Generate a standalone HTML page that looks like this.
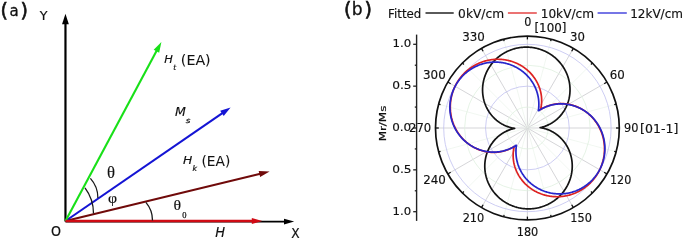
<!DOCTYPE html>
<html><head><meta charset="utf-8"><title>Figure</title><style>
html,body{margin:0;padding:0;background:#fff;width:685px;height:241px;overflow:hidden}
svg{display:block}
</style></head><body>
<svg width="685" height="241" viewBox="0 0 685 241">
<rect width="685" height="241" fill="#fff"/>
<line x1="65.50" y1="221.50" x2="65.45" y2="23.30" stroke="#000" stroke-width="2.2"/><polygon points="65.45,13.70 68.85,24.30 62.05,24.30" fill="#000"/>
<line x1="65.50" y1="221.60" x2="285.00" y2="221.60" stroke="#000" stroke-width="1.6"/><polygon points="294.20,221.60 284.00,224.40 284.00,218.80" fill="#000"/>
<line x1="65.50" y1="221.00" x2="260.37" y2="173.74" stroke="#700a0a" stroke-width="1.9"/><polygon points="269.60,171.50 260.10,176.89 258.69,171.06" fill="#700a0a"/>
<line x1="65.50" y1="221.00" x2="222.77" y2="112.79" stroke="#1414d4" stroke-width="2.1"/><polygon points="230.60,107.40 223.71,115.91 220.19,110.80" fill="#1414d4"/>
<line x1="65.50" y1="221.00" x2="156.91" y2="50.37" stroke="#18e018" stroke-width="2.1"/><polygon points="161.40,42.00 159.17,52.72 153.71,49.79" fill="#18e018"/>
<line x1="65.50" y1="221.00" x2="252.80" y2="221.00" stroke="#d00a14" stroke-width="2.6"/><polygon points="262.30,221.00 251.80,223.90 251.80,218.10" fill="#d00a14"/>
<path d="M90.4,178.4 A29.1,29.1 0 0 1 97.9,197.9" fill="none" stroke="#1a1a1a" stroke-width="1.3"/>
<path d="M85,187.9 A42.5,42.5 0 0 1 93.5,213.4" fill="none" stroke="#1a1a1a" stroke-width="1.3"/>
<path d="M145.9,202.4 A27.85,27.85 0 0 1 152.5,220.4" fill="none" stroke="#1a1a1a" stroke-width="1.3"/>
<line x1="425.5" y1="13.0" x2="453.7" y2="13.0" stroke="#000" stroke-width="1.3"/>
<line x1="507.9" y1="13.0" x2="536.8" y2="13.0" stroke="#e02828" stroke-width="1.3"/>
<line x1="597.6" y1="13.0" x2="626.8" y2="13.0" stroke="#2c2cd8" stroke-width="1.3"/>
<line x1="527.4" y1="128.0" x2="527.40" y2="36.10" stroke="#cacace" stroke-width="0.8"/><line x1="527.4" y1="128.0" x2="551.19" y2="39.23" stroke="#eef5ee" stroke-width="0.8"/><line x1="527.4" y1="128.0" x2="573.35" y2="48.41" stroke="#cacace" stroke-width="0.8"/><line x1="527.4" y1="128.0" x2="592.38" y2="63.02" stroke="#eef5ee" stroke-width="0.8"/><line x1="527.4" y1="128.0" x2="606.99" y2="82.05" stroke="#cacace" stroke-width="0.8"/><line x1="527.4" y1="128.0" x2="616.17" y2="104.21" stroke="#eef5ee" stroke-width="0.8"/><line x1="527.4" y1="128.0" x2="619.30" y2="128.00" stroke="#cacace" stroke-width="0.8"/><line x1="527.4" y1="128.0" x2="616.17" y2="151.79" stroke="#eef5ee" stroke-width="0.8"/><line x1="527.4" y1="128.0" x2="606.99" y2="173.95" stroke="#cacace" stroke-width="0.8"/><line x1="527.4" y1="128.0" x2="592.38" y2="192.98" stroke="#eef5ee" stroke-width="0.8"/><line x1="527.4" y1="128.0" x2="573.35" y2="207.59" stroke="#cacace" stroke-width="0.8"/><line x1="527.4" y1="128.0" x2="551.19" y2="216.77" stroke="#eef5ee" stroke-width="0.8"/><line x1="527.4" y1="128.0" x2="527.40" y2="219.90" stroke="#cacace" stroke-width="0.8"/><line x1="527.4" y1="128.0" x2="503.61" y2="216.77" stroke="#eef5ee" stroke-width="0.8"/><line x1="527.4" y1="128.0" x2="481.45" y2="207.59" stroke="#cacace" stroke-width="0.8"/><line x1="527.4" y1="128.0" x2="462.42" y2="192.98" stroke="#eef5ee" stroke-width="0.8"/><line x1="527.4" y1="128.0" x2="447.81" y2="173.95" stroke="#cacace" stroke-width="0.8"/><line x1="527.4" y1="128.0" x2="438.63" y2="151.79" stroke="#eef5ee" stroke-width="0.8"/><line x1="527.4" y1="128.0" x2="435.50" y2="128.00" stroke="#cacace" stroke-width="0.8"/><line x1="527.4" y1="128.0" x2="438.63" y2="104.21" stroke="#eef5ee" stroke-width="0.8"/><line x1="527.4" y1="128.0" x2="447.81" y2="82.05" stroke="#cacace" stroke-width="0.8"/><line x1="527.4" y1="128.0" x2="462.42" y2="63.02" stroke="#eef5ee" stroke-width="0.8"/><line x1="527.4" y1="128.0" x2="481.45" y2="48.41" stroke="#cacace" stroke-width="0.8"/><line x1="527.4" y1="128.0" x2="503.61" y2="39.23" stroke="#eef5ee" stroke-width="0.8"/>
<circle cx="527.4" cy="128.0" r="20.93" fill="none" stroke="#e0f0e0" stroke-width="0.8"/>
<circle cx="527.4" cy="128.0" r="41.85" fill="none" stroke="#c0c0f0" stroke-width="0.8"/>
<circle cx="527.4" cy="128.0" r="62.78" fill="none" stroke="#e0f0e0" stroke-width="0.8"/>
<circle cx="527.4" cy="128.0" r="83.70" fill="none" stroke="#c0c0f0" stroke-width="0.8"/>
<path d="M527.40,47.13 L528.11,47.15 L528.81,47.18 L529.52,47.23 L530.22,47.29 L530.92,47.35 L531.62,47.43 L532.32,47.52 L533.02,47.62 L533.72,47.73 L534.41,47.86 L535.10,47.99 L535.79,48.13 L536.48,48.29 L537.17,48.46 L537.85,48.63 L538.53,48.82 L539.20,49.02 L539.88,49.23 L540.54,49.45 L541.21,49.68 L541.87,49.92 L542.53,50.17 L543.18,50.43 L543.83,50.71 L544.47,50.99 L545.11,51.28 L545.75,51.58 L546.37,51.90 L547.00,52.22 L547.62,52.55 L548.23,52.89 L548.84,53.25 L549.44,53.61 L550.03,53.98 L550.62,54.36 L551.20,54.74 L551.78,55.14 L552.35,55.55 L552.91,55.97 L553.46,56.39 L554.01,56.82 L554.55,57.26 L555.09,57.71 L555.61,58.17 L556.13,58.64 L556.64,59.11 L557.14,59.60 L557.64,60.09 L558.12,60.58 L558.60,61.09 L559.07,61.60 L559.53,62.12 L559.98,62.65 L560.43,63.18 L560.86,63.72 L561.29,64.27 L561.70,64.82 L562.11,65.38 L562.51,65.94 L562.90,66.52 L563.28,67.09 L563.65,67.68 L564.01,68.26 L564.36,68.86 L564.70,69.46 L565.03,70.06 L565.35,70.67 L565.66,71.28 L565.96,71.90 L566.25,72.52 L566.53,73.15 L566.79,73.78 L567.05,74.41 L567.30,75.05 L567.54,75.69 L567.77,76.33 L567.98,76.98 L568.19,77.63 L568.38,78.28 L568.57,78.94 L568.74,79.60 L568.90,80.26 L569.05,80.92 L569.19,81.58 L569.32,82.25 L569.44,82.92 L569.55,83.58 L569.64,84.25 L569.73,84.92 L569.80,85.60 L569.87,86.27 L569.92,86.94 L569.96,87.61 L569.99,88.28 L570.01,88.95 L570.02,89.63 L570.02,90.30 L570.00,90.97 L569.98,91.64 L569.94,92.30 L569.89,92.97 L569.84,93.64 L569.77,94.30 L569.69,94.96 L569.60,95.62 L569.50,96.28 L569.38,96.93 L569.26,97.59 L569.13,98.24 L568.98,98.88 L568.83,99.53 L568.66,100.17 L568.49,100.80 L568.30,101.44 L568.11,102.07 L567.90,102.69 L567.68,103.31 L567.46,103.93 L567.22,104.55 L566.97,105.15 L566.71,105.76 L566.45,106.36 L566.17,106.95 L565.89,107.54 L565.59,108.12 L565.28,108.70 L564.97,109.27 L564.65,109.83 L564.31,110.39 L563.97,110.95 L563.62,111.49 L563.26,112.03 L562.89,112.57 L562.51,113.10 L562.13,113.62 L561.73,114.13 L561.33,114.63 L560.92,115.13 L560.50,115.62 L560.07,116.11 L559.64,116.58 L559.20,117.05 L558.75,117.51 L558.29,117.96 L557.82,118.41 L557.35,118.84 L556.87,119.27 L556.39,119.69 L555.89,120.10 L555.39,120.50 L554.89,120.89 L554.37,121.27 L553.85,121.65 L553.33,122.01 L552.80,122.37 L552.26,122.72 L551.72,123.05 L551.17,123.38 L550.61,123.70 L550.05,124.01 L549.49,124.30 L548.91,124.59 L548.34,124.87 L547.76,125.14 L547.17,125.40 L546.58,125.65 L545.98,125.88 L545.38,126.11 L544.77,126.33 L544.16,126.53 L543.55,126.73 L542.92,126.91 L542.29,127.09 L541.66,127.25 L541.01,127.41 L540.35,127.55 L540.14,127.67 L540.81,127.77 L541.47,127.88 L542.12,128.00 L542.76,128.13 L543.39,128.28 L544.02,128.44 L544.64,128.60 L545.26,128.78 L545.88,128.97 L546.49,129.17 L547.10,129.38 L547.70,129.60 L548.29,129.83 L548.89,130.07 L549.48,130.32 L550.06,130.58 L550.64,130.85 L551.21,131.13 L551.78,131.43 L552.35,131.73 L552.90,132.04 L553.46,132.36 L554.00,132.69 L554.55,133.03 L555.08,133.38 L555.61,133.74 L556.14,134.11 L556.66,134.49 L557.17,134.87 L557.67,135.27 L558.17,135.67 L558.66,136.09 L559.15,136.51 L559.63,136.94 L560.10,137.38 L560.56,137.82 L561.02,138.28 L561.47,138.74 L561.91,139.21 L562.35,139.69 L562.77,140.18 L563.19,140.67 L563.60,141.18 L564.00,141.69 L564.40,142.20 L564.78,142.72 L565.16,143.25 L565.53,143.79 L565.88,144.34 L566.23,144.89 L566.58,145.44 L566.91,146.00 L567.23,146.57 L567.54,147.15 L567.85,147.73 L568.14,148.31 L568.43,148.90 L568.70,149.50 L568.97,150.10 L569.23,150.71 L569.47,151.32 L569.71,151.94 L569.93,152.56 L570.15,153.18 L570.35,153.81 L570.55,154.44 L570.73,155.08 L570.91,155.72 L571.07,156.36 L571.23,157.01 L571.37,157.66 L571.50,158.31 L571.62,158.96 L571.73,159.62 L571.83,160.28 L571.92,160.94 L572.00,161.61 L572.07,162.27 L572.12,162.94 L572.17,163.61 L572.20,164.28 L572.23,164.95 L572.24,165.63 L572.24,166.30 L572.23,166.97 L572.21,167.65 L572.18,168.32 L572.14,168.99 L572.08,169.67 L572.02,170.34 L571.94,171.02 L571.86,171.69 L571.76,172.36 L571.65,173.03 L571.53,173.70 L571.40,174.36 L571.26,175.03 L571.10,175.69 L570.94,176.36 L570.77,177.02 L570.58,177.67 L570.38,178.33 L570.18,178.98 L569.96,179.63 L569.73,180.27 L569.49,180.92 L569.24,181.56 L568.98,182.19 L568.71,182.82 L568.43,183.45 L568.14,184.07 L567.84,184.69 L567.53,185.31 L567.20,185.92 L566.87,186.52 L566.53,187.12 L566.18,187.72 L565.82,188.31 L565.45,188.89 L565.07,189.47 L564.68,190.04 L564.28,190.61 L563.87,191.17 L563.45,191.72 L563.02,192.27 L562.59,192.81 L562.14,193.34 L561.69,193.87 L561.23,194.39 L560.76,194.90 L560.28,195.41 L559.79,195.91 L559.29,196.40 L558.79,196.88 L558.28,197.36 L557.76,197.82 L557.23,198.28 L556.70,198.73 L556.16,199.17 L555.61,199.61 L555.05,200.03 L554.49,200.45 L553.92,200.86 L553.34,201.25 L552.76,201.64 L552.17,202.02 L551.57,202.39 L550.97,202.75 L550.36,203.11 L549.75,203.45 L549.13,203.78 L548.51,204.10 L547.88,204.42 L547.24,204.72 L546.60,205.01 L545.96,205.29 L545.31,205.57 L544.65,205.83 L544.00,206.08 L543.33,206.32 L542.67,206.55 L542.00,206.77 L541.33,206.98 L540.65,207.18 L539.97,207.37 L539.29,207.55 L538.60,207.71 L537.91,207.87 L537.22,208.01 L536.53,208.15 L535.84,208.27 L535.14,208.38 L534.44,208.48 L533.74,208.57 L533.04,208.65 L532.34,208.72 L531.63,208.77 L530.93,208.82 L530.22,208.85 L529.52,208.87 L528.81,208.88 L528.11,208.88 L527.40,208.87 L526.69,208.85 L525.99,208.82 L525.28,208.77 L524.58,208.71 L523.88,208.65 L523.18,208.57 L522.48,208.48 L521.78,208.38 L521.08,208.27 L520.39,208.14 L519.70,208.01 L519.01,207.87 L518.32,207.71 L517.63,207.54 L516.95,207.37 L516.27,207.18 L515.60,206.98 L514.92,206.77 L514.26,206.55 L513.59,206.32 L512.93,206.08 L512.27,205.83 L511.62,205.57 L510.97,205.29 L510.33,205.01 L509.69,204.72 L509.05,204.42 L508.43,204.10 L507.80,203.78 L507.18,203.45 L506.57,203.11 L505.96,202.75 L505.36,202.39 L504.77,202.02 L504.18,201.64 L503.60,201.26 L503.02,200.86 L502.45,200.45 L501.89,200.03 L501.34,199.61 L500.79,199.18 L500.25,198.74 L499.71,198.29 L499.19,197.83 L498.67,197.36 L498.16,196.89 L497.66,196.40 L497.16,195.91 L496.68,195.42 L496.20,194.91 L495.73,194.40 L495.27,193.88 L494.82,193.35 L494.37,192.82 L493.94,192.28 L493.51,191.73 L493.10,191.18 L492.69,190.62 L492.29,190.06 L491.90,189.48 L491.52,188.91 L491.15,188.32 L490.79,187.74 L490.44,187.14 L490.10,186.54 L489.77,185.94 L489.45,185.33 L489.14,184.72 L488.84,184.10 L488.55,183.48 L488.27,182.85 L488.01,182.22 L487.75,181.59 L487.50,180.95 L487.26,180.31 L487.03,179.67 L486.82,179.02 L486.61,178.37 L486.42,177.72 L486.23,177.06 L486.06,176.40 L485.90,175.74 L485.75,175.08 L485.61,174.42 L485.48,173.75 L485.36,173.08 L485.25,172.42 L485.16,171.75 L485.07,171.08 L485.00,170.40 L484.93,169.73 L484.88,169.06 L484.84,168.39 L484.81,167.72 L484.79,167.05 L484.78,166.37 L484.78,165.70 L484.80,165.03 L484.82,164.36 L484.86,163.70 L484.91,163.03 L484.96,162.36 L485.03,161.70 L485.11,161.04 L485.20,160.38 L485.30,159.72 L485.42,159.07 L485.54,158.41 L485.67,157.76 L485.82,157.12 L485.97,156.47 L486.14,155.83 L486.31,155.20 L486.50,154.56 L486.69,153.93 L486.90,153.31 L487.12,152.69 L487.34,152.07 L487.58,151.45 L487.83,150.85 L488.09,150.24 L488.35,149.64 L488.63,149.05 L488.91,148.46 L489.21,147.88 L489.52,147.30 L489.83,146.73 L490.15,146.17 L490.49,145.61 L490.83,145.05 L491.18,144.51 L491.54,143.97 L491.91,143.43 L492.29,142.90 L492.67,142.38 L493.07,141.87 L493.47,141.37 L493.88,140.87 L494.30,140.38 L494.73,139.89 L495.16,139.42 L495.60,138.95 L496.05,138.49 L496.51,138.04 L496.98,137.59 L497.45,137.16 L497.93,136.73 L498.41,136.31 L498.91,135.90 L499.41,135.50 L499.91,135.11 L500.43,134.73 L500.95,134.35 L501.47,133.99 L502.00,133.63 L502.54,133.28 L503.08,132.95 L503.63,132.62 L504.19,132.30 L504.75,131.99 L505.31,131.70 L505.89,131.41 L506.46,131.13 L507.04,130.86 L507.63,130.60 L508.22,130.35 L508.82,130.12 L509.42,129.89 L510.03,129.67 L510.64,129.47 L511.25,129.27 L511.88,129.09 L512.51,128.91 L513.14,128.75 L513.79,128.59 L514.45,128.45 L514.66,128.33 L513.99,128.23 L513.33,128.12 L512.68,128.00 L512.04,127.87 L511.41,127.72 L510.78,127.56 L510.16,127.40 L509.54,127.22 L508.92,127.03 L508.31,126.83 L507.70,126.62 L507.10,126.40 L506.51,126.17 L505.91,125.93 L505.32,125.68 L504.74,125.42 L504.16,125.15 L503.59,124.87 L503.02,124.57 L502.45,124.27 L501.90,123.96 L501.34,123.64 L500.80,123.31 L500.25,122.97 L499.72,122.62 L499.19,122.26 L498.66,121.89 L498.14,121.51 L497.63,121.13 L497.13,120.73 L496.63,120.33 L496.14,119.91 L495.65,119.49 L495.17,119.06 L494.70,118.62 L494.24,118.18 L493.78,117.72 L493.33,117.26 L492.89,116.79 L492.45,116.31 L492.03,115.82 L491.61,115.33 L491.20,114.82 L490.80,114.31 L490.40,113.80 L490.02,113.28 L489.64,112.75 L489.27,112.21 L488.92,111.66 L488.57,111.11 L488.22,110.56 L487.89,110.00 L487.57,109.43 L487.26,108.85 L486.95,108.27 L486.66,107.69 L486.37,107.10 L486.10,106.50 L485.83,105.90 L485.57,105.29 L485.33,104.68 L485.09,104.06 L484.87,103.44 L484.65,102.82 L484.45,102.19 L484.25,101.56 L484.07,100.92 L483.89,100.28 L483.73,99.64 L483.57,98.99 L483.43,98.34 L483.30,97.69 L483.18,97.04 L483.07,96.38 L482.97,95.72 L482.88,95.06 L482.80,94.39 L482.73,93.73 L482.68,93.06 L482.63,92.39 L482.60,91.72 L482.57,91.05 L482.56,90.37 L482.56,89.70 L482.57,89.03 L482.59,88.35 L482.62,87.68 L482.66,87.01 L482.72,86.33 L482.78,85.66 L482.86,84.98 L482.94,84.31 L483.04,83.64 L483.15,82.97 L483.27,82.30 L483.40,81.64 L483.54,80.97 L483.70,80.31 L483.86,79.64 L484.03,78.98 L484.22,78.33 L484.42,77.67 L484.62,77.02 L484.84,76.37 L485.07,75.73 L485.31,75.08 L485.56,74.44 L485.82,73.81 L486.09,73.18 L486.37,72.55 L486.66,71.93 L486.96,71.31 L487.27,70.69 L487.60,70.08 L487.93,69.48 L488.27,68.88 L488.62,68.28 L488.98,67.69 L489.35,67.11 L489.73,66.53 L490.12,65.96 L490.52,65.39 L490.93,64.83 L491.35,64.28 L491.78,63.73 L492.21,63.19 L492.66,62.66 L493.11,62.13 L493.57,61.61 L494.04,61.10 L494.52,60.59 L495.01,60.09 L495.51,59.60 L496.01,59.12 L496.52,58.64 L497.04,58.18 L497.57,57.72 L498.10,57.27 L498.64,56.83 L499.19,56.39 L499.75,55.97 L500.31,55.55 L500.88,55.14 L501.46,54.75 L502.04,54.36 L502.63,53.98 L503.23,53.61 L503.83,53.25 L504.44,52.89 L505.05,52.55 L505.67,52.22 L506.29,51.90 L506.92,51.58 L507.56,51.28 L508.20,50.99 L508.84,50.71 L509.49,50.43 L510.15,50.17 L510.80,49.92 L511.47,49.68 L512.13,49.45 L512.80,49.23 L513.47,49.02 L514.15,48.82 L514.83,48.63 L515.51,48.45 L516.20,48.29 L516.89,48.13 L517.58,47.99 L518.27,47.85 L518.96,47.73 L519.66,47.62 L520.36,47.52 L521.06,47.43 L521.76,47.35 L522.46,47.28 L523.17,47.23 L523.87,47.18 L524.58,47.15 L525.28,47.13 L525.99,47.12 L526.69,47.12Z" fill="none" stroke="#141414" stroke-width="1.7" stroke-linejoin="round"/>
<path d="M527.40,70.16 L527.90,70.60 L528.39,71.05 L528.88,71.50 L529.36,71.97 L529.83,72.43 L530.29,72.91 L530.74,73.39 L531.18,73.88 L531.62,74.37 L532.05,74.87 L532.47,75.37 L532.88,75.88 L533.28,76.40 L533.67,76.92 L534.06,77.44 L534.43,77.97 L534.80,78.51 L535.15,79.04 L535.50,79.59 L535.84,80.13 L536.17,80.69 L536.49,81.24 L536.80,81.80 L537.10,82.36 L537.39,82.93 L537.67,83.50 L537.95,84.07 L538.21,84.64 L538.46,85.22 L538.71,85.80 L538.94,86.38 L539.17,86.97 L539.38,87.55 L539.59,88.14 L539.78,88.73 L539.97,89.32 L540.14,89.92 L540.31,90.51 L540.47,91.10 L540.61,91.70 L540.75,92.29 L540.88,92.89 L541.00,93.49 L541.10,94.08 L541.20,94.68 L541.29,95.28 L541.37,95.87 L541.44,96.47 L541.50,97.06 L541.55,97.65 L541.59,98.25 L541.62,98.84 L541.65,99.43 L541.66,100.01 L541.66,100.60 L541.66,101.18 L541.65,101.76 L541.62,102.34 L541.59,102.92 L541.55,103.49 L541.50,104.06 L541.44,104.63 L541.38,105.19 L541.30,105.75 L541.22,106.31 L541.13,106.86 L541.03,107.40 L540.93,107.94 L540.82,108.48 L540.70,109.01 L540.58,109.52 L540.91,109.40 L541.37,109.12 L541.84,108.84 L542.31,108.57 L542.79,108.30 L543.28,108.03 L543.78,107.77 L544.28,107.52 L544.79,107.27 L545.31,107.03 L545.83,106.80 L546.36,106.57 L546.89,106.35 L547.43,106.14 L547.97,105.94 L548.52,105.74 L549.08,105.55 L549.63,105.37 L550.20,105.20 L550.76,105.04 L551.34,104.88 L551.91,104.74 L552.49,104.60 L553.08,104.47 L553.67,104.35 L554.26,104.24 L554.85,104.14 L555.45,104.04 L556.05,103.96 L556.66,103.88 L557.26,103.82 L557.87,103.76 L558.49,103.71 L559.10,103.68 L559.72,103.65 L560.34,103.63 L560.96,103.62 L561.58,103.62 L562.20,103.63 L562.83,103.65 L563.45,103.68 L564.08,103.72 L564.71,103.77 L565.34,103.83 L565.97,103.90 L566.60,103.98 L567.22,104.07 L567.85,104.17 L568.48,104.28 L569.11,104.40 L569.74,104.53 L570.37,104.67 L570.99,104.82 L571.62,104.98 L572.24,105.15 L572.87,105.33 L573.49,105.52 L574.11,105.72 L574.73,105.93 L575.34,106.15 L575.96,106.38 L576.57,106.62 L577.17,106.87 L577.78,107.13 L578.38,107.40 L578.98,107.68 L579.58,107.97 L580.17,108.27 L580.76,108.58 L581.34,108.90 L581.93,109.23 L582.50,109.56 L583.08,109.91 L583.64,110.27 L584.21,110.63 L584.77,111.01 L585.32,111.39 L585.87,111.79 L586.41,112.19 L586.95,112.60 L587.48,113.02 L588.01,113.45 L588.53,113.89 L589.05,114.33 L589.55,114.79 L590.06,115.25 L590.55,115.72 L591.04,116.20 L591.53,116.69 L592.00,117.19 L592.47,117.69 L592.93,118.21 L593.39,118.73 L593.83,119.25 L594.27,119.79 L594.70,120.33 L595.13,120.88 L595.54,121.44 L595.95,122.00 L596.35,122.57 L596.74,123.15 L597.12,123.74 L597.50,124.33 L597.86,124.92 L598.22,125.53 L598.57,126.14 L598.91,126.75 L599.24,127.37 L599.56,128.00 L599.87,128.63 L600.17,129.27 L600.46,129.91 L600.74,130.56 L601.02,131.21 L601.28,131.87 L601.53,132.53 L601.78,133.20 L602.01,133.87 L602.23,134.55 L602.45,135.23 L602.65,135.91 L602.84,136.60 L603.02,137.29 L603.20,137.98 L603.36,138.68 L603.51,139.37 L603.65,140.08 L603.78,140.78 L603.90,141.49 L604.01,142.20 L604.10,142.91 L604.19,143.62 L604.27,144.34 L604.33,145.06 L604.39,145.77 L604.43,146.49 L604.46,147.21 L604.48,147.93 L604.49,148.66 L604.49,149.38 L604.48,150.10 L604.46,150.83 L604.42,151.55 L604.38,152.27 L604.32,152.99 L604.25,153.71 L604.18,154.44 L604.09,155.16 L603.99,155.88 L603.87,156.59 L603.75,157.31 L603.62,158.02 L603.48,158.74 L603.32,159.45 L603.15,160.16 L602.98,160.86 L602.79,161.57 L602.59,162.27 L602.38,162.97 L602.16,163.66 L601.93,164.35 L601.69,165.04 L601.44,165.73 L601.18,166.41 L600.91,167.08 L600.62,167.76 L600.33,168.43 L600.03,169.09 L599.71,169.75 L599.39,170.41 L599.06,171.06 L598.72,171.70 L598.36,172.34 L598.00,172.98 L597.63,173.61 L597.24,174.23 L596.85,174.85 L596.45,175.46 L596.04,176.06 L595.62,176.66 L595.19,177.26 L594.76,177.84 L594.31,178.42 L593.86,178.99 L593.39,179.56 L592.92,180.12 L592.44,180.67 L591.95,181.21 L591.45,181.75 L590.95,182.28 L590.44,182.80 L589.91,183.31 L589.39,183.81 L588.85,184.31 L588.31,184.80 L587.76,185.28 L587.20,185.75 L586.63,186.21 L586.06,186.66 L585.48,187.11 L584.90,187.54 L584.31,187.97 L583.71,188.39 L583.11,188.79 L582.50,189.19 L581.88,189.58 L581.26,189.96 L580.64,190.33 L580.01,190.69 L579.37,191.04 L578.73,191.38 L578.08,191.71 L577.43,192.03 L576.77,192.35 L576.11,192.65 L575.45,192.94 L574.78,193.22 L574.11,193.48 L573.43,193.74 L572.75,193.99 L572.07,194.23 L571.39,194.46 L570.70,194.67 L570.01,194.88 L569.31,195.08 L568.62,195.26 L567.92,195.43 L567.22,195.60 L566.51,195.75 L565.81,195.89 L565.10,196.02 L564.40,196.14 L563.69,196.25 L562.98,196.35 L562.27,196.43 L561.56,196.51 L560.85,196.57 L560.13,196.63 L559.42,196.67 L558.71,196.70 L558.00,196.73 L557.29,196.74 L556.58,196.74 L555.87,196.72 L555.16,196.70 L554.45,196.67 L553.74,196.63 L553.04,196.57 L552.33,196.51 L551.63,196.43 L550.93,196.34 L550.24,196.25 L549.54,196.14 L548.85,196.02 L548.16,195.89 L547.47,195.75 L546.79,195.60 L546.10,195.44 L545.43,195.27 L544.75,195.09 L544.08,194.90 L543.41,194.70 L542.75,194.49 L542.09,194.27 L541.44,194.04 L540.79,193.81 L540.14,193.56 L539.50,193.30 L538.87,193.03 L538.24,192.75 L537.61,192.47 L536.99,192.17 L536.38,191.86 L535.77,191.55 L535.16,191.23 L534.57,190.90 L533.97,190.56 L533.39,190.21 L532.81,189.85 L532.24,189.48 L531.67,189.11 L531.11,188.73 L530.56,188.34 L530.02,187.94 L529.48,187.54 L528.95,187.12 L528.42,186.70 L527.91,186.28 L527.40,185.84 L526.90,185.40 L526.41,184.95 L525.92,184.50 L525.44,184.03 L524.97,183.57 L524.51,183.09 L524.06,182.61 L523.62,182.12 L523.18,181.63 L522.75,181.13 L522.33,180.63 L521.92,180.12 L521.52,179.60 L521.13,179.08 L520.74,178.56 L520.37,178.03 L520.00,177.49 L519.65,176.96 L519.30,176.41 L518.96,175.87 L518.63,175.31 L518.31,174.76 L518.00,174.20 L517.70,173.64 L517.41,173.07 L517.13,172.50 L516.85,171.93 L516.59,171.36 L516.34,170.78 L516.09,170.20 L515.86,169.62 L515.63,169.03 L515.42,168.45 L515.21,167.86 L515.02,167.27 L514.83,166.68 L514.66,166.08 L514.49,165.49 L514.33,164.90 L514.19,164.30 L514.05,163.71 L513.92,163.11 L513.80,162.51 L513.70,161.92 L513.60,161.32 L513.51,160.72 L513.43,160.13 L513.36,159.53 L513.30,158.94 L513.25,158.35 L513.21,157.75 L513.18,157.16 L513.15,156.57 L513.14,155.99 L513.14,155.40 L513.14,154.82 L513.15,154.24 L513.18,153.66 L513.21,153.08 L513.25,152.51 L513.30,151.94 L513.36,151.37 L513.42,150.81 L513.50,150.25 L513.58,149.69 L513.67,149.14 L513.77,148.60 L513.87,148.06 L513.98,147.52 L514.10,146.99 L514.22,146.48 L513.89,146.60 L513.43,146.88 L512.96,147.16 L512.49,147.43 L512.01,147.70 L511.52,147.97 L511.02,148.23 L510.52,148.48 L510.01,148.73 L509.49,148.97 L508.97,149.20 L508.44,149.43 L507.91,149.65 L507.37,149.86 L506.83,150.06 L506.28,150.26 L505.72,150.45 L505.17,150.63 L504.60,150.80 L504.04,150.96 L503.46,151.12 L502.89,151.26 L502.31,151.40 L501.72,151.53 L501.13,151.65 L500.54,151.76 L499.95,151.86 L499.35,151.96 L498.75,152.04 L498.14,152.12 L497.54,152.18 L496.93,152.24 L496.31,152.29 L495.70,152.32 L495.08,152.35 L494.46,152.37 L493.84,152.38 L493.22,152.38 L492.60,152.37 L491.97,152.35 L491.35,152.32 L490.72,152.28 L490.09,152.23 L489.46,152.17 L488.83,152.10 L488.20,152.02 L487.58,151.93 L486.95,151.83 L486.32,151.72 L485.69,151.60 L485.06,151.47 L484.43,151.33 L483.81,151.18 L483.18,151.02 L482.56,150.85 L481.93,150.67 L481.31,150.48 L480.69,150.28 L480.07,150.07 L479.46,149.85 L478.84,149.62 L478.23,149.38 L477.63,149.13 L477.02,148.87 L476.42,148.60 L475.82,148.32 L475.22,148.03 L474.63,147.73 L474.04,147.42 L473.46,147.10 L472.87,146.77 L472.30,146.44 L471.72,146.09 L471.16,145.73 L470.59,145.37 L470.03,144.99 L469.48,144.61 L468.93,144.21 L468.39,143.81 L467.85,143.40 L467.32,142.98 L466.79,142.55 L466.27,142.11 L465.75,141.67 L465.25,141.21 L464.74,140.75 L464.25,140.28 L463.76,139.80 L463.27,139.31 L462.80,138.81 L462.33,138.31 L461.87,137.79 L461.41,137.27 L460.97,136.75 L460.53,136.21 L460.10,135.67 L459.67,135.12 L459.26,134.56 L458.85,134.00 L458.45,133.43 L458.06,132.85 L457.68,132.26 L457.30,131.67 L456.94,131.08 L456.58,130.47 L456.23,129.86 L455.89,129.25 L455.56,128.63 L455.24,128.00 L454.93,127.37 L454.63,126.73 L454.34,126.09 L454.06,125.44 L453.78,124.79 L453.52,124.13 L453.27,123.47 L453.02,122.80 L452.79,122.13 L452.57,121.45 L452.35,120.77 L452.15,120.09 L451.96,119.40 L451.78,118.71 L451.60,118.02 L451.44,117.32 L451.29,116.63 L451.15,115.92 L451.02,115.22 L450.90,114.51 L450.79,113.80 L450.70,113.09 L450.61,112.38 L450.53,111.66 L450.47,110.94 L450.41,110.23 L450.37,109.51 L450.34,108.79 L450.32,108.07 L450.31,107.34 L450.31,106.62 L450.32,105.90 L450.34,105.17 L450.38,104.45 L450.42,103.73 L450.48,103.01 L450.55,102.29 L450.62,101.56 L450.71,100.84 L450.81,100.12 L450.93,99.41 L451.05,98.69 L451.18,97.98 L451.32,97.26 L451.48,96.55 L451.65,95.84 L451.82,95.14 L452.01,94.43 L452.21,93.73 L452.42,93.03 L452.64,92.34 L452.87,91.65 L453.11,90.96 L453.36,90.27 L453.62,89.59 L453.89,88.92 L454.18,88.24 L454.47,87.57 L454.77,86.91 L455.09,86.25 L455.41,85.59 L455.74,84.94 L456.08,84.30 L456.44,83.66 L456.80,83.02 L457.17,82.39 L457.56,81.77 L457.95,81.15 L458.35,80.54 L458.76,79.94 L459.18,79.34 L459.61,78.74 L460.04,78.16 L460.49,77.58 L460.94,77.01 L461.41,76.44 L461.88,75.88 L462.36,75.33 L462.85,74.79 L463.35,74.25 L463.85,73.72 L464.36,73.20 L464.89,72.69 L465.41,72.19 L465.95,71.69 L466.49,71.20 L467.04,70.72 L467.60,70.25 L468.17,69.79 L468.74,69.34 L469.32,68.89 L469.90,68.46 L470.49,68.03 L471.09,67.61 L471.69,67.21 L472.30,66.81 L472.92,66.42 L473.54,66.04 L474.16,65.67 L474.79,65.31 L475.43,64.96 L476.07,64.62 L476.72,64.29 L477.37,63.97 L478.03,63.65 L478.69,63.35 L479.35,63.06 L480.02,62.78 L480.69,62.52 L481.37,62.26 L482.05,62.01 L482.73,61.77 L483.41,61.54 L484.10,61.33 L484.79,61.12 L485.49,60.92 L486.18,60.74 L486.88,60.57 L487.58,60.40 L488.29,60.25 L488.99,60.11 L489.70,59.98 L490.40,59.86 L491.11,59.75 L491.82,59.65 L492.53,59.57 L493.24,59.49 L493.95,59.43 L494.67,59.37 L495.38,59.33 L496.09,59.30 L496.80,59.27 L497.51,59.26 L498.22,59.26 L498.93,59.28 L499.64,59.30 L500.35,59.33 L501.06,59.37 L501.76,59.43 L502.47,59.49 L503.17,59.57 L503.87,59.66 L504.56,59.75 L505.26,59.86 L505.95,59.98 L506.64,60.11 L507.33,60.25 L508.01,60.40 L508.70,60.56 L509.37,60.73 L510.05,60.91 L510.72,61.10 L511.39,61.30 L512.05,61.51 L512.71,61.73 L513.36,61.96 L514.01,62.19 L514.66,62.44 L515.30,62.70 L515.93,62.97 L516.56,63.25 L517.19,63.53 L517.81,63.83 L518.42,64.14 L519.03,64.45 L519.64,64.77 L520.23,65.10 L520.83,65.44 L521.41,65.79 L521.99,66.15 L522.56,66.52 L523.13,66.89 L523.69,67.27 L524.24,67.66 L524.78,68.06 L525.32,68.46 L525.85,68.88 L526.38,69.30 L526.89,69.72Z" fill="none" stroke="#dd2222" stroke-width="1.7" stroke-linejoin="round"/>
<path d="M527.40,75.84 L527.85,76.32 L528.29,76.81 L528.73,77.31 L529.15,77.81 L529.57,78.32 L529.98,78.83 L530.38,79.34 L530.77,79.86 L531.15,80.39 L531.52,80.92 L531.88,81.45 L532.24,81.99 L532.58,82.53 L532.92,83.08 L533.24,83.63 L533.56,84.18 L533.87,84.73 L534.16,85.29 L534.45,85.85 L534.73,86.41 L535.00,86.98 L535.26,87.55 L535.51,88.12 L535.76,88.69 L535.99,89.26 L536.21,89.83 L536.42,90.41 L536.63,90.98 L536.82,91.56 L537.01,92.14 L537.19,92.72 L537.35,93.29 L537.51,93.87 L537.66,94.45 L537.80,95.02 L537.93,95.60 L538.05,96.17 L538.16,96.75 L538.26,97.32 L538.36,97.89 L538.44,98.46 L538.52,99.03 L538.59,99.59 L538.65,100.15 L538.70,100.71 L538.75,101.27 L538.78,101.82 L538.81,102.37 L538.83,102.92 L538.84,103.46 L538.85,103.99 L538.85,104.53 L538.84,105.05 L538.83,105.58 L538.80,106.09 L538.78,106.60 L538.74,107.11 L538.71,107.60 L538.66,108.09 L538.62,108.57 L538.57,109.04 L538.52,109.49 L538.47,109.94 L538.42,110.36 L538.39,110.75 L538.65,110.68 L539.01,110.47 L539.38,110.24 L539.77,110.00 L540.17,109.76 L540.58,109.52 L541.00,109.28 L541.43,109.03 L541.87,108.79 L542.32,108.55 L542.78,108.32 L543.24,108.08 L543.72,107.85 L544.20,107.63 L544.68,107.40 L545.18,107.19 L545.68,106.97 L546.19,106.77 L546.70,106.57 L547.22,106.37 L547.75,106.18 L548.28,106.00 L548.82,105.82 L549.36,105.65 L549.91,105.49 L550.47,105.33 L551.03,105.18 L551.60,105.04 L552.17,104.90 L552.74,104.78 L553.32,104.66 L553.91,104.55 L554.50,104.45 L555.09,104.35 L555.68,104.27 L556.28,104.19 L556.89,104.12 L557.50,104.06 L558.11,104.01 L558.72,103.97 L559.34,103.94 L559.95,103.91 L560.58,103.90 L561.20,103.89 L561.82,103.90 L562.45,103.91 L563.08,103.93 L563.71,103.97 L564.34,104.01 L564.98,104.06 L565.61,104.12 L566.25,104.19 L566.88,104.28 L567.52,104.37 L568.16,104.47 L568.79,104.58 L569.43,104.70 L570.07,104.83 L570.70,104.98 L571.34,105.13 L571.97,105.29 L572.61,105.46 L573.24,105.64 L573.87,105.84 L574.50,106.04 L575.13,106.25 L575.75,106.47 L576.38,106.71 L577.00,106.95 L577.61,107.20 L578.23,107.46 L578.84,107.74 L579.45,108.02 L580.06,108.31 L580.66,108.61 L581.26,108.93 L581.86,109.25 L582.45,109.58 L583.04,109.92 L583.62,110.27 L584.20,110.64 L584.77,111.01 L585.34,111.39 L585.90,111.78 L586.46,112.17 L587.01,112.58 L587.56,113.00 L588.10,113.43 L588.64,113.86 L589.17,114.31 L589.69,114.76 L590.21,115.22 L590.72,115.69 L591.22,116.17 L591.72,116.66 L592.21,117.16 L592.69,117.66 L593.16,118.17 L593.63,118.69 L594.09,119.22 L594.54,119.76 L594.98,120.30 L595.42,120.85 L595.85,121.41 L596.27,121.97 L596.68,122.55 L597.08,123.13 L597.47,123.71 L597.86,124.31 L598.23,124.91 L598.60,125.51 L598.95,126.13 L599.30,126.74 L599.64,127.37 L599.97,128.00 L600.28,128.64 L600.59,129.28 L600.89,129.92 L601.18,130.58 L601.46,131.23 L601.73,131.90 L601.98,132.56 L602.23,133.23 L602.47,133.91 L602.69,134.59 L602.91,135.27 L603.11,135.96 L603.31,136.65 L603.49,137.34 L603.66,138.04 L603.82,138.74 L603.97,139.44 L604.11,140.15 L604.24,140.86 L604.36,141.57 L604.46,142.28 L604.56,143.00 L604.64,143.71 L604.71,144.43 L604.77,145.15 L604.82,145.87 L604.86,146.60 L604.88,147.32 L604.89,148.04 L604.90,148.77 L604.89,149.49 L604.87,150.21 L604.83,150.94 L604.79,151.66 L604.73,152.38 L604.67,153.11 L604.59,153.83 L604.50,154.55 L604.39,155.27 L604.28,155.98 L604.16,156.70 L604.02,157.41 L603.87,158.12 L603.71,158.83 L603.54,159.54 L603.36,160.24 L603.17,160.94 L602.96,161.64 L602.75,162.34 L602.52,163.03 L602.28,163.72 L602.03,164.40 L601.77,165.08 L601.50,165.76 L601.22,166.43 L600.93,167.09 L600.62,167.76 L600.31,168.41 L599.99,169.07 L599.65,169.71 L599.31,170.36 L598.95,170.99 L598.58,171.62 L598.21,172.25 L597.82,172.86 L597.43,173.48 L597.02,174.08 L596.61,174.68 L596.18,175.27 L595.75,175.86 L595.31,176.44 L594.85,177.01 L594.39,177.57 L593.92,178.13 L593.44,178.68 L592.95,179.22 L592.46,179.75 L591.95,180.27 L591.44,180.79 L590.92,181.30 L590.39,181.80 L589.85,182.29 L589.31,182.77 L588.75,183.24 L588.19,183.71 L587.63,184.16 L587.05,184.61 L586.47,185.05 L585.88,185.47 L585.29,185.89 L584.69,186.30 L584.08,186.70 L583.47,187.08 L582.85,187.46 L582.22,187.83 L581.59,188.19 L580.96,188.54 L580.32,188.87 L579.67,189.20 L579.02,189.52 L578.36,189.82 L577.70,190.12 L577.04,190.40 L576.37,190.68 L575.69,190.94 L575.02,191.19 L574.34,191.43 L573.65,191.66 L572.97,191.88 L572.28,192.09 L571.58,192.29 L570.89,192.47 L570.19,192.65 L569.49,192.81 L568.78,192.96 L568.08,193.10 L567.37,193.23 L566.67,193.35 L565.96,193.46 L565.25,193.55 L564.54,193.64 L563.82,193.71 L563.11,193.77 L562.40,193.82 L561.68,193.86 L560.97,193.89 L560.26,193.90 L559.55,193.91 L558.83,193.90 L558.12,193.88 L557.41,193.85 L556.70,193.81 L555.99,193.76 L555.29,193.70 L554.58,193.63 L553.88,193.54 L553.18,193.45 L552.48,193.34 L551.79,193.22 L551.09,193.10 L550.40,192.96 L549.72,192.81 L549.03,192.65 L548.35,192.48 L547.67,192.30 L547.00,192.11 L546.33,191.90 L545.66,191.69 L545.00,191.47 L544.34,191.24 L543.69,191.00 L543.04,190.74 L542.40,190.48 L541.76,190.21 L541.13,189.93 L540.50,189.64 L539.88,189.34 L539.26,189.03 L538.65,188.71 L538.05,188.38 L537.45,188.05 L536.86,187.70 L536.27,187.35 L535.69,186.99 L535.12,186.62 L534.55,186.24 L533.99,185.85 L533.44,185.46 L532.89,185.06 L532.36,184.65 L531.83,184.23 L531.30,183.81 L530.79,183.37 L530.28,182.93 L529.78,182.49 L529.29,182.04 L528.80,181.58 L528.33,181.11 L527.86,180.64 L527.40,180.16 L526.95,179.68 L526.51,179.19 L526.07,178.69 L525.65,178.19 L525.23,177.68 L524.82,177.17 L524.42,176.66 L524.03,176.14 L523.65,175.61 L523.28,175.08 L522.92,174.55 L522.56,174.01 L522.22,173.47 L521.88,172.92 L521.56,172.37 L521.24,171.82 L520.93,171.27 L520.64,170.71 L520.35,170.15 L520.07,169.59 L519.80,169.02 L519.54,168.45 L519.29,167.88 L519.04,167.31 L518.81,166.74 L518.59,166.17 L518.38,165.59 L518.17,165.02 L517.98,164.44 L517.79,163.86 L517.61,163.28 L517.45,162.71 L517.29,162.13 L517.14,161.55 L517.00,160.98 L516.87,160.40 L516.75,159.83 L516.64,159.25 L516.54,158.68 L516.44,158.11 L516.36,157.54 L516.28,156.97 L516.21,156.41 L516.15,155.85 L516.10,155.29 L516.05,154.73 L516.02,154.18 L515.99,153.63 L515.97,153.08 L515.96,152.54 L515.95,152.01 L515.95,151.47 L515.96,150.95 L515.97,150.42 L516.00,149.91 L516.02,149.40 L516.06,148.89 L516.09,148.40 L516.14,147.91 L516.18,147.43 L516.23,146.96 L516.28,146.51 L516.33,146.06 L516.38,145.64 L516.41,145.25 L516.15,145.32 L515.79,145.53 L515.42,145.76 L515.03,146.00 L514.63,146.24 L514.22,146.48 L513.80,146.72 L513.37,146.97 L512.93,147.21 L512.48,147.45 L512.02,147.68 L511.56,147.92 L511.08,148.15 L510.60,148.37 L510.12,148.60 L509.62,148.81 L509.12,149.03 L508.61,149.23 L508.10,149.43 L507.58,149.63 L507.05,149.82 L506.52,150.00 L505.98,150.18 L505.44,150.35 L504.89,150.51 L504.33,150.67 L503.77,150.82 L503.20,150.96 L502.63,151.10 L502.06,151.22 L501.48,151.34 L500.89,151.45 L500.30,151.55 L499.71,151.65 L499.12,151.73 L498.52,151.81 L497.91,151.88 L497.30,151.94 L496.69,151.99 L496.08,152.03 L495.46,152.06 L494.85,152.09 L494.22,152.10 L493.60,152.11 L492.98,152.10 L492.35,152.09 L491.72,152.07 L491.09,152.03 L490.46,151.99 L489.82,151.94 L489.19,151.88 L488.55,151.81 L487.92,151.72 L487.28,151.63 L486.64,151.53 L486.01,151.42 L485.37,151.30 L484.73,151.17 L484.10,151.02 L483.46,150.87 L482.83,150.71 L482.19,150.54 L481.56,150.36 L480.93,150.16 L480.30,149.96 L479.67,149.75 L479.05,149.53 L478.42,149.29 L477.80,149.05 L477.19,148.80 L476.57,148.54 L475.96,148.26 L475.35,147.98 L474.74,147.69 L474.14,147.39 L473.54,147.07 L472.94,146.75 L472.35,146.42 L471.76,146.08 L471.18,145.73 L470.60,145.36 L470.03,144.99 L469.46,144.61 L468.90,144.22 L468.34,143.83 L467.79,143.42 L467.24,143.00 L466.70,142.57 L466.16,142.14 L465.63,141.69 L465.11,141.24 L464.59,140.78 L464.08,140.31 L463.58,139.83 L463.08,139.34 L462.59,138.84 L462.11,138.34 L461.64,137.83 L461.17,137.31 L460.71,136.78 L460.26,136.24 L459.82,135.70 L459.38,135.15 L458.95,134.59 L458.53,134.03 L458.12,133.45 L457.72,132.87 L457.33,132.29 L456.94,131.69 L456.57,131.09 L456.20,130.49 L455.85,129.87 L455.50,129.26 L455.16,128.63 L454.83,128.00 L454.52,127.36 L454.21,126.72 L453.91,126.08 L453.62,125.42 L453.34,124.77 L453.07,124.10 L452.82,123.44 L452.57,122.77 L452.33,122.09 L452.11,121.41 L451.89,120.73 L451.69,120.04 L451.49,119.35 L451.31,118.66 L451.14,117.96 L450.98,117.26 L450.83,116.56 L450.69,115.85 L450.56,115.14 L450.44,114.43 L450.34,113.72 L450.24,113.00 L450.16,112.29 L450.09,111.57 L450.03,110.85 L449.98,110.13 L449.94,109.40 L449.92,108.68 L449.91,107.96 L449.90,107.23 L449.91,106.51 L449.93,105.79 L449.97,105.06 L450.01,104.34 L450.07,103.62 L450.13,102.89 L450.21,102.17 L450.30,101.45 L450.41,100.73 L450.52,100.02 L450.64,99.30 L450.78,98.59 L450.93,97.88 L451.09,97.17 L451.26,96.46 L451.44,95.76 L451.63,95.06 L451.84,94.36 L452.05,93.66 L452.28,92.97 L452.52,92.28 L452.77,91.60 L453.03,90.92 L453.30,90.24 L453.58,89.57 L453.87,88.91 L454.18,88.24 L454.49,87.59 L454.81,86.93 L455.15,86.29 L455.49,85.64 L455.85,85.01 L456.22,84.38 L456.59,83.75 L456.98,83.14 L457.37,82.52 L457.78,81.92 L458.19,81.32 L458.62,80.73 L459.05,80.14 L459.49,79.56 L459.95,78.99 L460.41,78.43 L460.88,77.87 L461.36,77.32 L461.85,76.78 L462.34,76.25 L462.85,75.73 L463.36,75.21 L463.88,74.70 L464.41,74.20 L464.95,73.71 L465.49,73.23 L466.05,72.76 L466.61,72.29 L467.17,71.84 L467.75,71.39 L468.33,70.95 L468.92,70.53 L469.51,70.11 L470.11,69.70 L470.72,69.30 L471.33,68.92 L471.95,68.54 L472.58,68.17 L473.21,67.81 L473.84,67.46 L474.48,67.13 L475.13,66.80 L475.78,66.48 L476.44,66.18 L477.10,65.88 L477.76,65.60 L478.43,65.32 L479.11,65.06 L479.78,64.81 L480.46,64.57 L481.15,64.34 L481.83,64.12 L482.52,63.91 L483.22,63.71 L483.91,63.53 L484.61,63.35 L485.31,63.19 L486.02,63.04 L486.72,62.90 L487.43,62.77 L488.13,62.65 L488.84,62.54 L489.55,62.45 L490.26,62.36 L490.98,62.29 L491.69,62.23 L492.40,62.18 L493.12,62.14 L493.83,62.11 L494.54,62.10 L495.25,62.09 L495.97,62.10 L496.68,62.12 L497.39,62.15 L498.10,62.19 L498.81,62.24 L499.51,62.30 L500.22,62.37 L500.92,62.46 L501.62,62.55 L502.32,62.66 L503.01,62.78 L503.71,62.90 L504.40,63.04 L505.08,63.19 L505.77,63.35 L506.45,63.52 L507.13,63.70 L507.80,63.89 L508.47,64.10 L509.14,64.31 L509.80,64.53 L510.46,64.76 L511.11,65.00 L511.76,65.26 L512.40,65.52 L513.04,65.79 L513.67,66.07 L514.30,66.36 L514.92,66.66 L515.54,66.97 L516.15,67.29 L516.75,67.62 L517.35,67.95 L517.94,68.30 L518.53,68.65 L519.11,69.01 L519.68,69.38 L520.25,69.76 L520.81,70.15 L521.36,70.54 L521.91,70.94 L522.44,71.35 L522.97,71.77 L523.50,72.19 L524.01,72.63 L524.52,73.07 L525.02,73.51 L525.51,73.96 L526.00,74.42 L526.47,74.89 L526.94,75.36Z" fill="none" stroke="#2626cc" stroke-width="1.7" stroke-linejoin="round"/>
<circle cx="527.4" cy="128.0" r="91.90" fill="none" stroke="#111" stroke-width="1.7"/>
<line x1="527.40" y1="36.10" x2="527.40" y2="39.40" stroke="#111" stroke-width="1.3"/><line x1="551.19" y1="39.23" x2="550.67" y2="41.16" stroke="#111" stroke-width="1.3"/><line x1="573.35" y1="48.41" x2="571.70" y2="51.27" stroke="#111" stroke-width="1.3"/><line x1="592.38" y1="63.02" x2="590.97" y2="64.43" stroke="#111" stroke-width="1.3"/><line x1="606.99" y1="82.05" x2="604.13" y2="83.70" stroke="#111" stroke-width="1.3"/><line x1="616.17" y1="104.21" x2="614.24" y2="104.73" stroke="#111" stroke-width="1.3"/><line x1="619.30" y1="128.00" x2="616.00" y2="128.00" stroke="#111" stroke-width="1.3"/><line x1="616.17" y1="151.79" x2="614.24" y2="151.27" stroke="#111" stroke-width="1.3"/><line x1="606.99" y1="173.95" x2="604.13" y2="172.30" stroke="#111" stroke-width="1.3"/><line x1="592.38" y1="192.98" x2="590.97" y2="191.57" stroke="#111" stroke-width="1.3"/><line x1="573.35" y1="207.59" x2="571.70" y2="204.73" stroke="#111" stroke-width="1.3"/><line x1="551.19" y1="216.77" x2="550.67" y2="214.84" stroke="#111" stroke-width="1.3"/><line x1="527.40" y1="219.90" x2="527.40" y2="216.60" stroke="#111" stroke-width="1.3"/><line x1="503.61" y1="216.77" x2="504.13" y2="214.84" stroke="#111" stroke-width="1.3"/><line x1="481.45" y1="207.59" x2="483.10" y2="204.73" stroke="#111" stroke-width="1.3"/><line x1="462.42" y1="192.98" x2="463.83" y2="191.57" stroke="#111" stroke-width="1.3"/><line x1="447.81" y1="173.95" x2="450.67" y2="172.30" stroke="#111" stroke-width="1.3"/><line x1="438.63" y1="151.79" x2="440.56" y2="151.27" stroke="#111" stroke-width="1.3"/><line x1="435.50" y1="128.00" x2="438.80" y2="128.00" stroke="#111" stroke-width="1.3"/><line x1="438.63" y1="104.21" x2="440.56" y2="104.73" stroke="#111" stroke-width="1.3"/><line x1="447.81" y1="82.05" x2="450.67" y2="83.70" stroke="#111" stroke-width="1.3"/><line x1="462.42" y1="63.02" x2="463.83" y2="64.43" stroke="#111" stroke-width="1.3"/><line x1="481.45" y1="48.41" x2="483.10" y2="51.27" stroke="#111" stroke-width="1.3"/><line x1="503.61" y1="39.23" x2="504.13" y2="41.16" stroke="#111" stroke-width="1.3"/>
<line x1="416.6" y1="34.60" x2="416.6" y2="220.90" stroke="#222" stroke-width="1.4"/>
<line x1="413.20000000000005" y1="128.00" x2="416.6" y2="128.00" stroke="#222" stroke-width="1.3"/><line x1="414.8" y1="107.08" x2="416.6" y2="107.08" stroke="#222" stroke-width="1.3"/><line x1="414.8" y1="148.93" x2="416.6" y2="148.93" stroke="#222" stroke-width="1.3"/><line x1="413.20000000000005" y1="86.15" x2="416.6" y2="86.15" stroke="#222" stroke-width="1.3"/><line x1="413.20000000000005" y1="169.85" x2="416.6" y2="169.85" stroke="#222" stroke-width="1.3"/><line x1="414.8" y1="65.22" x2="416.6" y2="65.22" stroke="#222" stroke-width="1.3"/><line x1="414.8" y1="190.78" x2="416.6" y2="190.78" stroke="#222" stroke-width="1.3"/><line x1="413.20000000000005" y1="44.30" x2="416.6" y2="44.30" stroke="#222" stroke-width="1.3"/><line x1="413.20000000000005" y1="211.70" x2="416.6" y2="211.70" stroke="#222" stroke-width="1.3"/>
<g fill="#111">
<text x="0.50" y="17.26" font-family="DejaVu Sans, sans-serif" font-size="19.02" stroke="#111" stroke-width="0.6">(</text>
<text x="9.55" y="16.08" font-family="DejaVu Sans, sans-serif" font-size="16.47" textLength="9.24" lengthAdjust="spacingAndGlyphs" stroke="#111" stroke-width="0.3">a</text>
<text x="20.60" y="16.78" font-family="DejaVu Sans, sans-serif" font-size="19.02" stroke="#111" stroke-width="0.6">)</text>
<text x="39.73" y="20.43" font-family="DejaVu Sans, sans-serif" font-size="12.56" textLength="7.72" lengthAdjust="spacingAndGlyphs" stroke="#111" stroke-width="0.2">Y</text>
<text x="51.07" y="235.89" font-family="DejaVu Sans, sans-serif" font-size="13.30" textLength="10.01" lengthAdjust="spacingAndGlyphs" stroke="#111" stroke-width="0.2">O</text>
<text x="291.20" y="237.72" font-family="DejaVu Sans, sans-serif" font-size="13.18" textLength="8.35" lengthAdjust="spacingAndGlyphs" stroke="#111" stroke-width="0.2">X</text>
<text x="164.22" y="63.08" font-family="DejaVu Sans, sans-serif" font-size="10.68" font-style="italic" textLength="8.59" lengthAdjust="spacingAndGlyphs" stroke="#111" stroke-width="0.15">H</text>
<text x="173.35" y="69.66" font-family="DejaVu Sans, sans-serif" font-size="7.34" font-style="italic" stroke="#111" stroke-width="0.2">t</text>
<text x="180.87" y="65.49" font-family="DejaVu Sans, sans-serif" font-size="14.15" textLength="29.79" lengthAdjust="spacingAndGlyphs" stroke="#111" stroke-width="0.08">(EA)</text>
<text x="174.91" y="116.12" font-family="DejaVu Sans, sans-serif" font-size="11.78" font-style="italic" textLength="10.86" lengthAdjust="spacingAndGlyphs" stroke="#111" stroke-width="0.15">M</text>
<text x="185.77" y="122.93" font-family="DejaVu Sans, sans-serif" font-size="7.43" font-style="italic" textLength="4.64" lengthAdjust="spacingAndGlyphs" stroke="#111" stroke-width="0.2">s</text>
<text x="183.07" y="164.17" font-family="DejaVu Sans, sans-serif" font-size="10.68" font-style="italic" textLength="9.30" lengthAdjust="spacingAndGlyphs" stroke="#111" stroke-width="0.15">H</text>
<text x="192.54" y="170.69" font-family="DejaVu Sans, sans-serif" font-size="7.76" font-style="italic" stroke="#111" stroke-width="0.2">k</text>
<text x="201.51" y="166.22" font-family="DejaVu Sans, sans-serif" font-size="14.15" textLength="28.74" lengthAdjust="spacingAndGlyphs" stroke="#111" stroke-width="0.08">(EA)</text>
<text x="215.23" y="236.78" font-family="DejaVu Sans, sans-serif" font-size="13.40" font-style="italic" textLength="9.82" lengthAdjust="spacingAndGlyphs" stroke="#111" stroke-width="0.15">H</text>
<text x="107.11" y="177.71" font-family="Liberation Serif, serif" font-size="16.45" textLength="8.03" lengthAdjust="spacingAndGlyphs" stroke="#111" stroke-width="0.15">θ</text>
<text x="107.97" y="203.45" font-family="Liberation Serif, serif" font-size="14.72" textLength="9.04" lengthAdjust="spacingAndGlyphs" stroke="#111" stroke-width="0.15">φ</text>
<text x="173.48" y="210.45" font-family="Liberation Serif, serif" font-size="15.22" textLength="7.61" lengthAdjust="spacingAndGlyphs" stroke="#111" stroke-width="0.15">θ</text>
<text x="182.35" y="218.00" font-family="Liberation Serif, serif" font-size="9.06" textLength="4.26" lengthAdjust="spacingAndGlyphs" stroke="#111" stroke-width="0.25">0</text>
<text x="343.88" y="16.36" font-family="DejaVu Sans, sans-serif" font-size="19.02" stroke="#111" stroke-width="0.6">(</text>
<text x="351.69" y="15.21" font-family="DejaVu Sans, sans-serif" font-size="16.84" textLength="10.85" lengthAdjust="spacingAndGlyphs" stroke="#111" stroke-width="0.3">b</text>
<text x="364.50" y="16.34" font-family="DejaVu Sans, sans-serif" font-size="19.02" stroke="#111" stroke-width="0.6">)</text>
<text x="388.04" y="17.76" font-family="DejaVu Sans, sans-serif" font-size="12.20" textLength="33.35" lengthAdjust="spacingAndGlyphs" stroke="#111" stroke-width="0.15">Fitted</text>
<text x="458.14" y="18.49" font-family="DejaVu Sans, sans-serif" font-size="12.20" textLength="45.89" lengthAdjust="spacingAndGlyphs" stroke="#111" stroke-width="0.15">0kV/cm</text>
<text x="540.72" y="18.18" font-family="DejaVu Sans, sans-serif" font-size="12.20" textLength="53.24" lengthAdjust="spacingAndGlyphs" stroke="#111" stroke-width="0.15">10kV/cm</text>
<text x="630.17" y="18.17" font-family="DejaVu Sans, sans-serif" font-size="12.20" textLength="52.83" lengthAdjust="spacingAndGlyphs" stroke="#111" stroke-width="0.15">12kV/cm</text>
<text x="392.60" y="47.18" font-family="DejaVu Sans, sans-serif" font-size="11.15" textLength="18.70" lengthAdjust="spacingAndGlyphs" stroke="#111" stroke-width="0.15">1.0</text>
<text x="392.17" y="88.57" font-family="DejaVu Sans, sans-serif" font-size="11.15" textLength="19.44" lengthAdjust="spacingAndGlyphs" stroke="#111" stroke-width="0.15">0.5</text>
<text x="392.20" y="131.07" font-family="DejaVu Sans, sans-serif" font-size="11.15" textLength="19.02" lengthAdjust="spacingAndGlyphs" stroke="#111" stroke-width="0.15">0.0</text>
<text x="392.25" y="172.97" font-family="DejaVu Sans, sans-serif" font-size="11.15" textLength="19.37" lengthAdjust="spacingAndGlyphs" stroke="#111" stroke-width="0.15">0.5</text>
<text x="392.61" y="215.16" font-family="DejaVu Sans, sans-serif" font-size="11.15" textLength="18.57" lengthAdjust="spacingAndGlyphs" stroke="#111" stroke-width="0.15">1.0</text>
<text transform="translate(386.39,141.35) rotate(-90)" font-family="DejaVu Sans, sans-serif" font-size="8.02" textLength="35.72" lengthAdjust="spacingAndGlyphs" stroke="#111" stroke-width="0.2">Mr/Ms</text>
<text x="524.29" y="26.27" font-family="DejaVu Sans, sans-serif" font-size="11.71" textLength="7.14" lengthAdjust="spacingAndGlyphs" stroke="#111" stroke-width="0.15">0</text>
<text x="534.48" y="32.09" font-family="DejaVu Sans, sans-serif" font-size="11.47" textLength="32.03" lengthAdjust="spacingAndGlyphs" stroke="#111" stroke-width="0.15">[100]</text>
<text x="462.27" y="40.98" font-family="DejaVu Sans, sans-serif" font-size="11.71" textLength="22.62" lengthAdjust="spacingAndGlyphs" stroke="#111" stroke-width="0.15">330</text>
<text x="570.06" y="41.28" font-family="DejaVu Sans, sans-serif" font-size="11.71" textLength="14.90" lengthAdjust="spacingAndGlyphs" stroke="#111" stroke-width="0.15">30</text>
<text x="423.05" y="78.70" font-family="DejaVu Sans, sans-serif" font-size="11.71" textLength="22.71" lengthAdjust="spacingAndGlyphs" stroke="#111" stroke-width="0.15">300</text>
<text x="609.72" y="79.27" font-family="DejaVu Sans, sans-serif" font-size="11.71" textLength="15.04" lengthAdjust="spacingAndGlyphs" stroke="#111" stroke-width="0.15">60</text>
<text x="409.03" y="131.85" font-family="DejaVu Sans, sans-serif" font-size="11.71" textLength="22.23" lengthAdjust="spacingAndGlyphs" stroke="#111" stroke-width="0.15">270</text>
<text x="624.08" y="131.86" font-family="DejaVu Sans, sans-serif" font-size="11.71" textLength="14.43" lengthAdjust="spacingAndGlyphs" stroke="#111" stroke-width="0.15">90</text>
<text x="640.07" y="133.11" font-family="DejaVu Sans, sans-serif" font-size="11.47" textLength="38.27" lengthAdjust="spacingAndGlyphs" stroke="#111" stroke-width="0.15">[01-1]</text>
<text x="423.23" y="184.02" font-family="DejaVu Sans, sans-serif" font-size="11.71" textLength="22.70" lengthAdjust="spacingAndGlyphs" stroke="#111" stroke-width="0.15">240</text>
<text x="610.01" y="184.35" font-family="DejaVu Sans, sans-serif" font-size="11.71" textLength="21.20" lengthAdjust="spacingAndGlyphs" stroke="#111" stroke-width="0.15">120</text>
<text x="462.66" y="221.70" font-family="DejaVu Sans, sans-serif" font-size="11.71" textLength="21.65" lengthAdjust="spacingAndGlyphs" stroke="#111" stroke-width="0.15">210</text>
<text x="570.32" y="221.80" font-family="DejaVu Sans, sans-serif" font-size="11.71" textLength="21.54" lengthAdjust="spacingAndGlyphs" stroke="#111" stroke-width="0.15">150</text>
<text x="516.72" y="236.20" font-family="DejaVu Sans, sans-serif" font-size="11.71" textLength="21.55" lengthAdjust="spacingAndGlyphs" stroke="#111" stroke-width="0.15">180</text>
</g>
</svg>
</body></html>
